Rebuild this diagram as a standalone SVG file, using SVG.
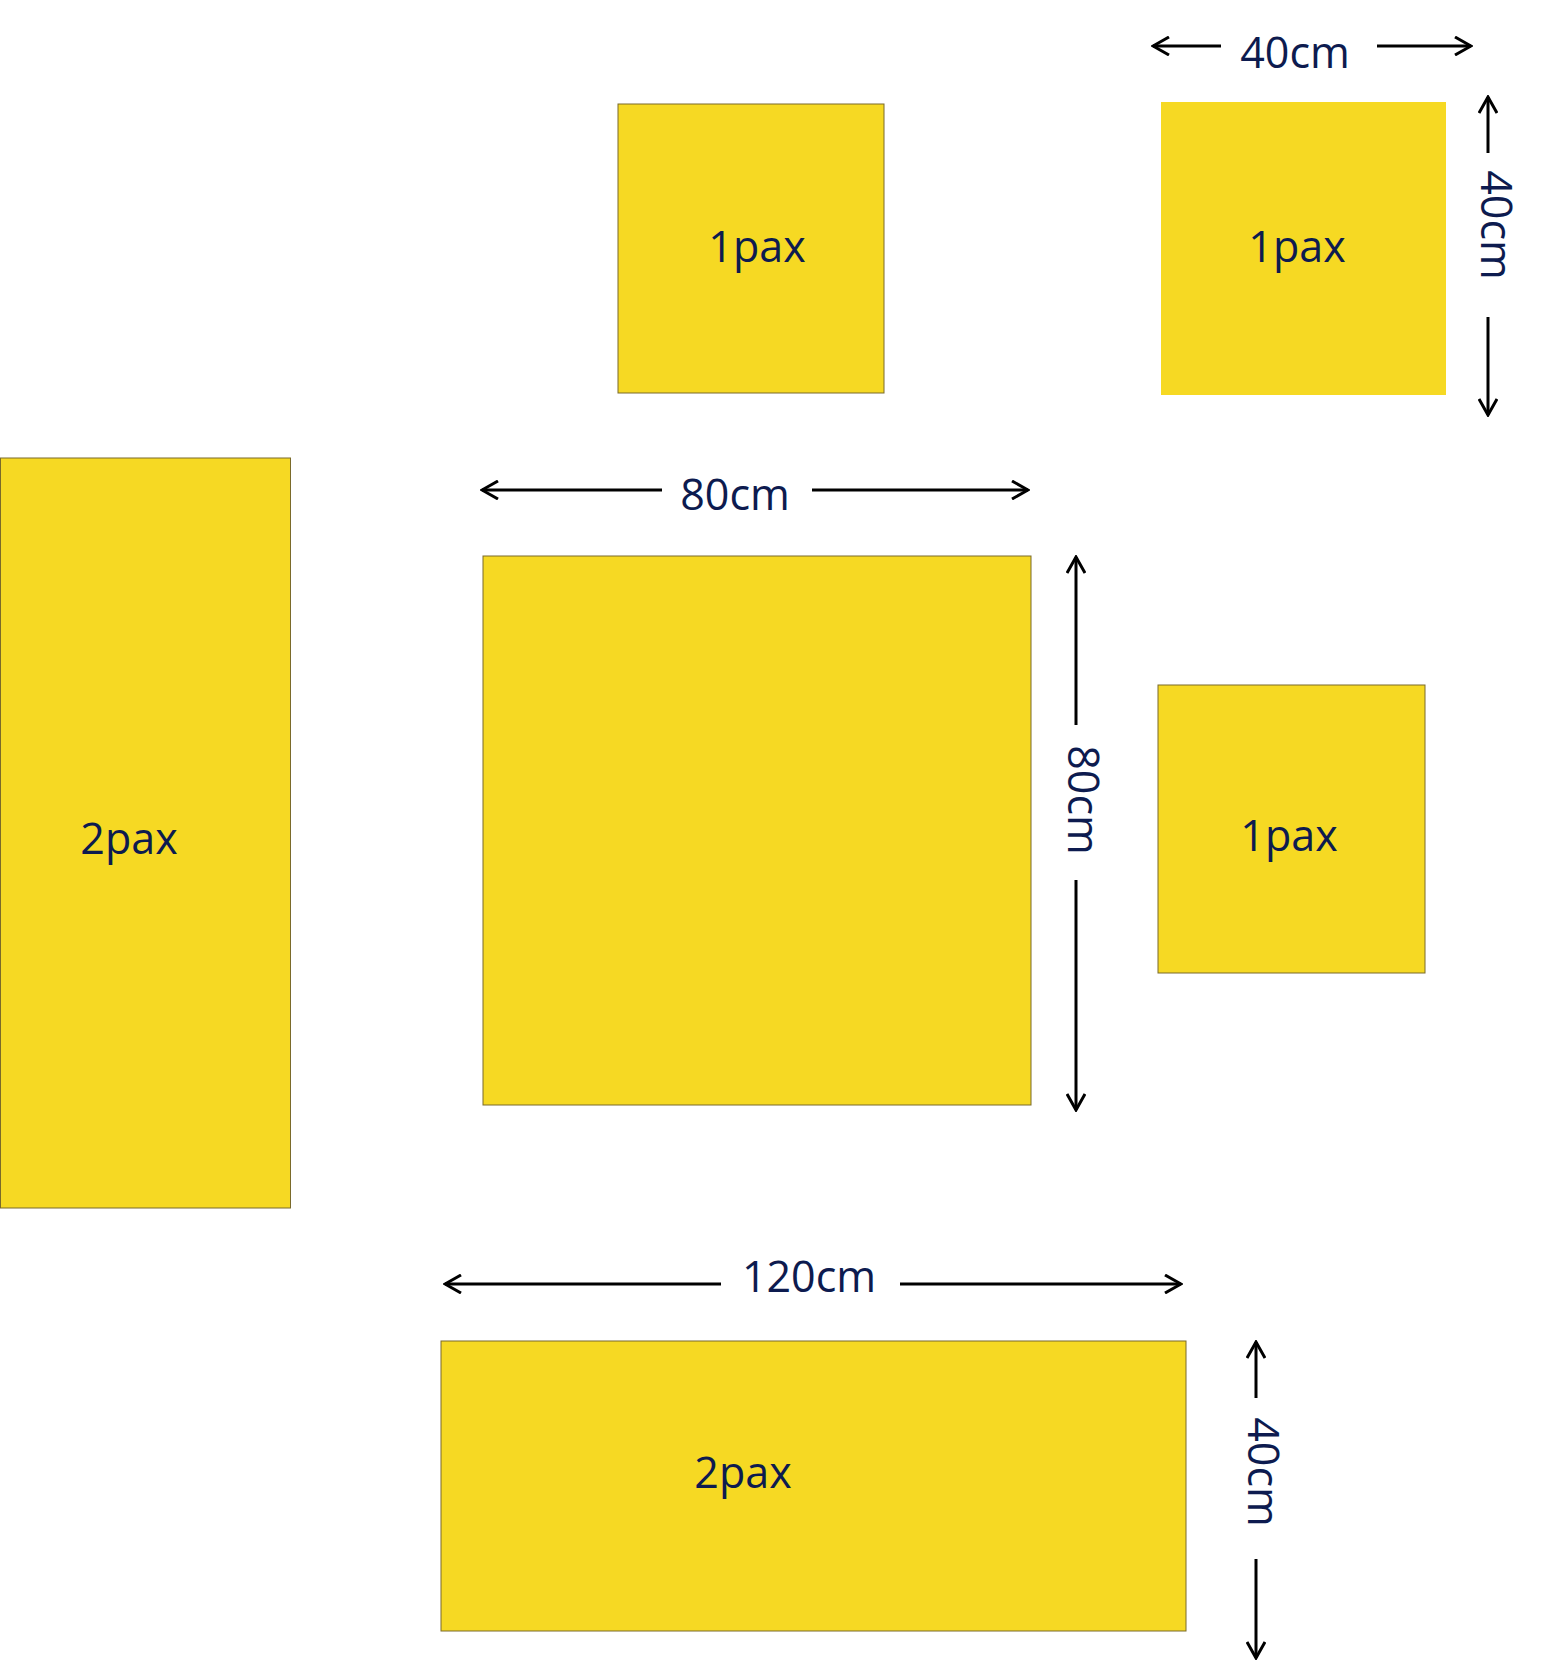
<svg xmlns="http://www.w3.org/2000/svg" width="1548" height="1661" viewBox="0 0 1548 1661">
<defs>
<style>
.box{fill:#f6d923;stroke:#7a6a2a;stroke-width:1}
.t{font-family:"Open Sans","Liberation Sans",sans-serif;font-size:43px;fill:#0d1b4f;text-anchor:middle}
.a{stroke:#000;stroke-width:3;fill:none}
</style>
<marker id="h" viewBox="0 0 20 20" refX="18" refY="10" markerWidth="20" markerHeight="20" markerUnits="userSpaceOnUse" orient="auto-start-reverse">
<path d="M2 1 L18 10 L2 19" fill="none" stroke="#000" stroke-width="3"/>
</marker>
</defs>
<rect width="1548" height="1661" fill="#fff"/>
<g id="boxA"><rect class="box" x="618" y="104" width="266" height="289"/><text class="t" x="757" y="262">1pax</text></g>
<g id="boxB"><rect x="1161" y="102" width="285" height="293" fill="#f6d923"/><text class="t" x="1297" y="262">1pax</text></g>
<g id="boxC"><rect class="box" x="0.5" y="458" width="290" height="750"/><text class="t" x="129" y="854">2pax</text></g>
<g id="boxD"><rect class="box" x="483" y="556" width="548" height="549"/></g>
<g id="boxE"><rect class="box" x="1158" y="685" width="267" height="288"/><text class="t" x="1289" y="851">1pax</text></g>
<g id="boxF"><rect class="box" x="441" y="1341" width="745" height="290"/><text class="t" x="743" y="1488">2pax</text></g>
<g id="connectors">
<line class="a" x1="1221" y1="46" x2="1153" y2="46" marker-end="url(#h)"/>
<line class="a" x1="1377" y1="46" x2="1471" y2="46" marker-end="url(#h)"/>
<line class="a" x1="1488" y1="153" x2="1488" y2="97" marker-end="url(#h)"/>
<line class="a" x1="1488" y1="317" x2="1488" y2="415" marker-end="url(#h)"/>
<line class="a" x1="662" y1="490" x2="482" y2="490" marker-end="url(#h)"/>
<line class="a" x1="812" y1="490" x2="1028" y2="490" marker-end="url(#h)"/>
<line class="a" x1="1076" y1="725" x2="1076" y2="557" marker-end="url(#h)"/>
<line class="a" x1="1076" y1="880" x2="1076" y2="1110" marker-end="url(#h)"/>
<line class="a" x1="721" y1="1284" x2="445" y2="1284" marker-end="url(#h)"/>
<line class="a" x1="900" y1="1284" x2="1181" y2="1284" marker-end="url(#h)"/>
<line class="a" x1="1256" y1="1398" x2="1256" y2="1342" marker-end="url(#h)"/>
<line class="a" x1="1256" y1="1559" x2="1256" y2="1658" marker-end="url(#h)"/>
</g>
<g id="labels">
<text class="t" x="1295" y="68">40cm</text>
<text class="t" transform="translate(1481 225) rotate(90)">40cm</text>
<text class="t" x="735" y="510">80cm</text>
<text class="t" transform="translate(1068 800) rotate(90)">80cm</text>
<text class="t" x="809" y="1292">120cm</text>
<text class="t" transform="translate(1248 1472) rotate(90)">40cm</text>
</g>
</svg>
